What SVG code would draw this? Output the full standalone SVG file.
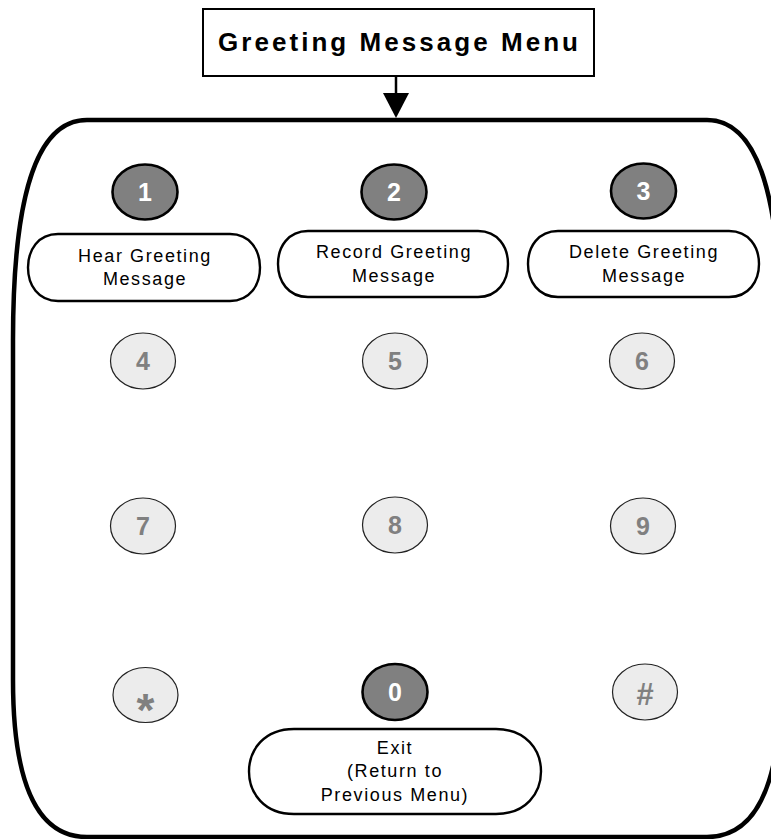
<svg xmlns="http://www.w3.org/2000/svg" width="771" height="839" viewBox="0 0 771 839">
<style>
.outer{fill:#fff;stroke:#000;stroke-width:4.5}
.title{fill:#fff;stroke:#000;stroke-width:2}
.ttxt{font-family:"Liberation Sans",Arial,sans-serif;font-weight:bold;font-size:26px;fill:#000}
.dk{fill:#808080;stroke:#000;stroke-width:2.6}
.lt{fill:#ececec;stroke:#222;stroke-width:1.2}
.dktxt{font-family:"Liberation Sans",Arial,sans-serif;font-weight:bold;font-size:25px;fill:#fff;text-anchor:middle}
.lttxt{font-family:"Liberation Sans",Arial,sans-serif;font-weight:bold;font-size:25px;fill:#808080;text-anchor:middle}
.lbl{fill:#fff;stroke:#000;stroke-width:2.4}
.lbltxt{font-family:"Liberation Sans",Arial,sans-serif;font-size:18px;letter-spacing:1.6px;fill:#000;text-anchor:middle}
.conn{stroke:#000;stroke-width:2.5;fill:none}
</style>
<rect width="771" height="839" fill="#fff"/>
<g id="keypad-frame">
<path class="outer" d="M 87,120 L 707,120 C 759,120 781,200 781,340 L 781,680 C 781,780 759,837 707,837 L 87,837 C 35,837 13,780 13,680 L 13,340 C 13,200 35,120 87,120 Z"/>
</g>
<g id="title">
<rect class="title" x="203" y="9" width="391" height="67"/>
<text class="ttxt" x="218" y="51" textLength="360" lengthAdjust="spacing">Greeting Message Menu</text>
</g>
<g id="connectors">
<line class="conn" x1="396" y1="76" x2="396" y2="95"/>
<polygon points="383,93 409,93 396,118" fill="#000"/>
</g>
<g id="key1">
<ellipse class="dk" cx="145" cy="192" rx="32.5" ry="27.5"/>
<text class="dktxt" x="145" y="201">1</text>
</g>
<g id="label1">
<path class="lbl" d="M 58,234 L 230,234 C 250,234 260,250 260,267.5 C 260,285 250,301 230,301 L 58,301 C 38,301 28,285 28,267.5 C 28,250 38,234 58,234 Z"/>
<text class="lbltxt" x="145" y="262">Hear Greeting</text>
<text class="lbltxt" x="145" y="285">Message</text>
</g>
<g id="key2">
<ellipse class="dk" cx="394" cy="192" rx="32.5" ry="27.5"/>
<text class="dktxt" x="394" y="201">2</text>
</g>
<g id="label2">
<path class="lbl" d="M 308,231 L 478,231 C 498,231 508,247 508,264 C 508,281 498,297 478,297 L 308,297 C 288,297 278,281 278,264 C 278,247 288,231 308,231 Z"/>
<text class="lbltxt" x="394" y="258">Record Greeting</text>
<text class="lbltxt" x="394" y="282">Message</text>
</g>
<g id="key3">
<ellipse class="dk" cx="643.5" cy="191" rx="32.5" ry="27.5"/>
<text class="dktxt" x="643.5" y="200">3</text>
</g>
<g id="label3">
<path class="lbl" d="M 558,231 L 729,231 C 749,231 759,247 759,264 C 759,281 749,297 729,297 L 558,297 C 538,297 528,281 528,264 C 528,247 538,231 558,231 Z"/>
<text class="lbltxt" x="644" y="258">Delete Greeting</text>
<text class="lbltxt" x="644" y="282">Message</text>
</g>
<g id="key4">
<ellipse class="lt" cx="143" cy="361" rx="32.5" ry="28"/>
<text class="lttxt" x="143" y="370">4</text>
</g>
<g id="key5">
<ellipse class="lt" cx="395" cy="361" rx="32.5" ry="28"/>
<text class="lttxt" x="395" y="370">5</text>
</g>
<g id="key6">
<ellipse class="lt" cx="642" cy="361" rx="32.5" ry="28"/>
<text class="lttxt" x="642" y="370">6</text>
</g>
<g id="key7">
<ellipse class="lt" cx="143" cy="526" rx="32.5" ry="28"/>
<text class="lttxt" x="143" y="535">7</text>
</g>
<g id="key8">
<ellipse class="lt" cx="395" cy="525" rx="32.5" ry="28"/>
<text class="lttxt" x="395" y="534">8</text>
</g>
<g id="key9">
<ellipse class="lt" cx="643" cy="526" rx="32.5" ry="28"/>
<text class="lttxt" x="643" y="535">9</text>
</g>
<g id="keystar">
<ellipse class="lt" cx="145.5" cy="695" rx="32.5" ry="27.5"/>
<text class="lttxt" x="145.5" y="726" style="font-size:46px">*</text>
</g>
<g id="key0">
<ellipse class="dk" cx="395" cy="692" rx="32.5" ry="28"/>
<text class="dktxt" x="395" y="701">0</text>
</g>
<g id="keyhash">
<ellipse class="lt" cx="645" cy="692" rx="32.5" ry="28"/>
<text class="lttxt" x="645" y="705" style="font-size:31px">#</text>
</g>
<g id="label0">
<path class="lbl" d="M 294,729 L 496,729 C 526,729 541,750 541,771.5 C 541,793 526,814 496,814 L 294,814 C 264,814 249,793 249,771.5 C 249,750 264,729 294,729 Z"/>
<text class="lbltxt" x="395" y="754">Exit</text>
<text class="lbltxt" x="395" y="777">(Return to</text>
<text class="lbltxt" x="395" y="801">Previous Menu)</text>
</g>
</svg>
